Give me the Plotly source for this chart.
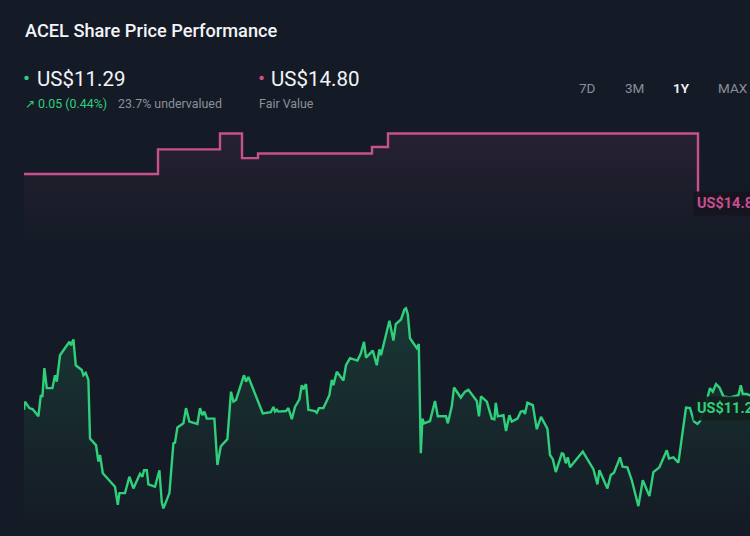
import plotly.graph_objects as go

# ---------------- data ----------------
# day offsets within the 1Y window and closing prices (US$)
price_days = [0, 0.5, 2.7, 4.4, 7.2, 8.4, 9.2, 10.2, 11.4, 14.2, 15.5, 16.4, 18, 19.7, 22.7, 23.5, 24.7,
              25.9, 28.9, 29.7, 30.9, 32.2, 33, 36, 37.2, 38, 39.4, 45.5, 46.9, 47.7, 50.5, 52.7, 54.7,
              58, 59.2, 60, 61.4, 62.2, 65.5, 67.7, 68.9, 69.7, 72.7, 74.7, 75.5, 76.7, 79.7, 81, 82.7,
              86.7, 88, 89.2, 90.2, 91.4, 95.2, 96.7, 98.4, 101.7, 103.5, 104.7, 106, 110, 111, 112.2,
              118, 119.4, 123.4, 124.7, 125.5, 126.4, 127.2, 131, 132.2, 133.9, 135.5, 137.7, 138.9,
              139.7, 141, 142.2, 145.5, 146.4, 147.5, 149.7, 152.7, 153.9, 154.7, 156.4, 159.7, 161,
              163, 166.7, 168.4, 170, 171, 174.4, 176.4, 177.7, 178.5, 182.7, 184.7, 185.9, 188.5,
              190.2, 191, 191.9, 193, 195.5, 196.4, 197.4, 198.4, 199.2, 200, 203, 205.5, 206.9, 211,
              211.9, 213.9, 215, 218.4, 220.5, 222.2, 226.4, 227.5, 228.5, 231.4, 233.9, 235.2, 235.9,
              236.9, 239.7, 241, 242.7, 243.9, 246.7, 248.4, 249.7, 250.5, 251.7, 254.4, 256.4, 258.5,
              261.7, 263, 264.4, 265.9, 268.9, 269.7, 270.9, 271.9, 273, 279.4, 284.7, 286.7, 287.7,
              291.7, 293.4, 295, 298, 299.3, 301.7, 303.9, 307.2, 309.4, 312.7, 314.7, 317.7, 321.4,
              322.5, 324.7, 327.2, 331, 333, 335, 336.7, 338, 340, 342.2, 343, 344.4, 346, 347.7,
              349.7, 353, 357.2, 358.4, 359.4, 361.4, 363, 365]
prices = [11.26, 11.40, 11.29, 11.27, 11.15, 11.51, 11.48, 11.97, 11.63, 11.63, 11.85, 11.74, 12.19,
          12.28, 12.42, 12.36, 12.46, 12.02, 11.94, 11.85, 11.89, 11.77, 10.77, 10.66, 10.38, 10.49,
          10.18, 9.95, 9.64, 9.84, 9.84, 10.12, 9.92, 10.17, 10.12, 10.23, 10.23, 9.99, 9.95, 10.23,
          9.68, 9.58, 9.84, 10.69, 10.70, 10.96, 11.03, 11.29, 11.06, 11.02, 11.29, 11.17, 11.23,
          11.11, 11.11, 10.32, 10.64, 10.76, 11.57, 11.40, 11.43, 11.85, 11.74, 11.82, 11.31, 11.20,
          11.22, 11.31, 11.23, 11.26, 11.23, 11.24, 11.29, 11.10, 11.31, 11.44, 11.68, 11.61, 11.70,
          11.26, 11.24, 11.21, 11.29, 11.29, 11.51, 11.77, 11.68, 11.91, 11.76, 12.02, 12.14, 12.10,
          12.22, 12.42, 12.15, 12.27, 12.02, 12.29, 12.19, 12.78, 12.44, 12.72, 12.80, 12.97, 12.99,
          12.89, 12.48, 12.36, 12.31, 12.38, 10.52, 11.11, 11.03, 11.07, 11.41, 11.15, 11.15, 11.03,
          11.32, 11.64, 11.47, 11.57, 11.60, 11.41, 11.15, 11.49, 11.40, 11.11, 11.10, 11.38, 11.15,
          11.17, 10.90, 11.17, 11.06, 11.11, 11.23, 11.24, 11.19, 11.38, 11.34, 10.93, 11.14, 10.94,
          10.49, 10.42, 10.20, 10.52, 10.51, 10.35, 10.45, 10.28, 10.55, 10.25, 9.99, 10.23, 9.92,
          10.15, 10.19, 10.45, 10.29, 10.28, 10.06, 9.62, 10.06, 9.79, 10.20, 10.28, 10.57, 10.43,
          10.45, 10.36, 11.30, 11.29, 11.06, 11.02, 11.07, 11.25, 11.51, 11.63, 11.57, 11.70, 11.64,
          11.49, 11.47, 11.51, 11.68, 11.53, 11.53, 11.51, 11.29]

fv_days = [0, 67, 98, 109, 117, 174, 182, 337, 370]
fair_values = [15.28, 15.70, 15.97, 15.55, 15.63, 15.74, 15.97, 14.80, 14.80]

last_price = "US$11.29"
fair_value = "US$14.80"
change_text = "↗ 0.05 (0.44%)"
valuation_text = "23.7% undervalued"
periods = ["7D", "3M", "1Y", "MAX"]
active_period = "1Y"

# ---------------- style ----------------
W, H = 750, 536
ML, MT = 24, 120
BG = "#151b26"
GREEN = "#2fd07c"
PINK = "#c8508f"
GREY = "#8a909a"
FONT = "Roboto"


def px(x):
    return (x - ML) / (W - ML)


def py(y):
    return (H - y) / (H - MT)


fig = go.Figure()

fig.add_trace(go.Scatter(
    x=fv_days, y=fair_values, mode="lines", line=dict(color=PINK, width=2.4, shape="hv"),
    fill="tozeroy",
    fillgradient=dict(type="vertical", start=14.2, stop=16.0,
                      colorscale=[[0, "rgba(200,80,143,0)"], [1, "rgba(200,80,143,0.10)"]]),
    hoverinfo="skip", showlegend=False))

fig.add_trace(go.Scatter(
    x=price_days, y=prices, mode="lines", line=dict(color=GREEN, width=2.4),
    fill="tozeroy",
    fillgradient=dict(type="vertical", start=9.3, stop=13.0,
                      colorscale=[[0, "rgba(47,208,124,0)"], [1, "rgba(47,208,124,0.16)"]]),
    hoverinfo="skip", showlegend=False))

ann = []


def text(x, y, s, size, color, anchor="left", weight=400, **kw):
    ann.append(dict(x=px(x), y=py(y), xref="paper", yref="paper", text=s, showarrow=False,
                    xanchor=anchor, yanchor="middle",
                    font=dict(family=FONT, size=size, color=color, weight=weight), **kw))


text(23, 30, "ACEL Share Price Performance", 18.2, "#f2f4f7", weight=500)
text(21, 78, "•", 21, GREEN)
text(35, 79, last_price, 20.5, "#f2f4f7")
text(256, 78, "•", 21, PINK)
text(269, 79, fair_value, 20.5, "#f2f4f7")
text(23, 103, change_text, 12.4, GREEN)
text(116, 103, valuation_text, 12.4, GREY)
text(257, 103, "Fair Value", 12.4, GREY)

for label, cx in zip(periods, [587, 634, 681, 733]):
    if label == active_period:
        text(cx, 88, label, 13.5, "#f2f4f7", anchor="center", weight=600)
    else:
        text(cx, 88, label, 13.5, GREY, anchor="center")

text(693, 203, fair_value, 14.5, PINK, weight=700, bgcolor="rgba(22,20,30,0.92)", borderpad=3)
text(693, 408, last_price, 14.5, GREEN, weight=700, bgcolor="rgba(20,32,30,0.92)", borderpad=3)

fig.update_layout(
    width=W, height=H, paper_bgcolor=BG, plot_bgcolor=BG,
    margin=dict(l=ML, r=0, t=MT, b=0),
    xaxis=dict(visible=False, range=[0, 363]),
    yaxis=dict(visible=False, range=[9.11, 16.20]),
    annotations=ann, showlegend=False,
)

fig.write_html("out.html", config={"displayModeBar": False})
